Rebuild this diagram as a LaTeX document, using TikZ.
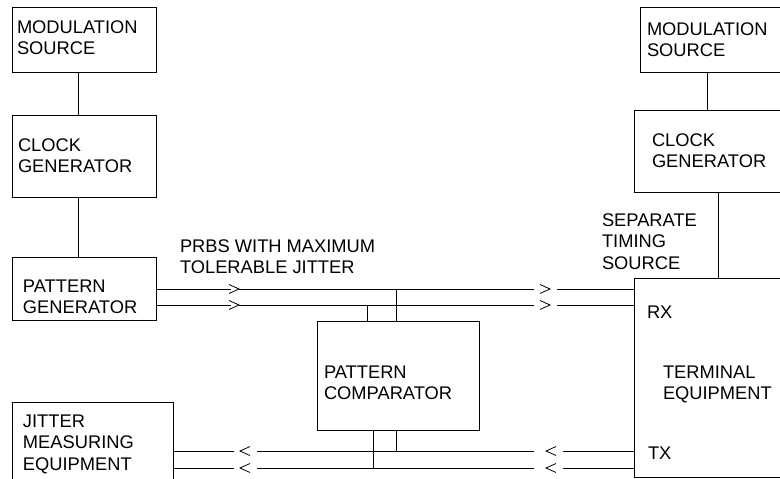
\documentclass[tikz,border=0pt]{standalone}
\usepackage{fontspec}
\setmainfont{Liberation Sans}
\begin{document}
\begin{tikzpicture}[x=1pt,y=-1pt,
  box/.style={draw, line width=1pt, inner sep=0pt, outer sep=0pt, anchor=north west},
  lbl/.style={anchor=north west, inner sep=0pt, outer sep=0pt, align=left,
    font=\fontsize{18.3}{21.5}\selectfont},
  wire/.style={line width=1pt},
  chev/.style={line width=0.8pt}]
\useasboundingbox (0,0) rectangle (780,479);
\clip (0,0) rectangle (780,479);
\fill[white] (0,0) rectangle (780,479);
\newcommand{\fl}{\rule{0pt}{14pt}}
% boxes
\node[box, minimum width=144pt, minimum height=65pt] (lms) at (12,7) {};
\node[box, minimum width=144pt, minimum height=82pt] (lcg) at (12,115) {};
\node[box, minimum width=144pt, minimum height=63pt] (pg) at (12,257) {};
\node[box, minimum width=161pt, minimum height=90pt] (jm) at (12,402) {};
\node[box, minimum width=162pt, minimum height=109pt] (pc) at (317,321) {};
\node[box, minimum width=150pt, minimum height=65pt] (rms) at (640,7) {};
\node[box, minimum width=156pt, minimum height=82pt] (rcg) at (634,110) {};
\node[box, minimum width=156pt, minimum height=199pt] (te) at (634,278) {};
% texts
\node[lbl] (lmsT) at (17,19) {\fl MODULATION\\SOURCE};
\node[lbl] (lcgT) at (18,137) {\fl CLOCK\\GENERATOR};
\node[lbl] (pgT) at (23,278) {\fl PATTERN\\GENERATOR};
\node[lbl] (prbsT) at (180,238) {\fl PRBS WITH MAXIMUM\\TOLERABLE JITTER};
\node[lbl] (pcT) at (324,364) {\fl PATTERN\\COMPARATOR};
\node[lbl] (jmT) at (23,413) {\fl JITTER\\MEASURING\\EQUIPMENT};
\node[lbl] (rmsT) at (647,21) {\fl MODULATION\\SOURCE};
\node[lbl] (rcgT) at (652,132) {\fl CLOCK\\GENERATOR};
\node[lbl] (stsT) at (602,212) {\fl SEPARATE\\TIMING\\SOURCE};
\node[lbl] (rxT) at (647,304) {\fl RX};
\node[lbl] (teT) at (663,364) {\fl TERMINAL\\EQUIPMENT};
\node[lbl] (txT) at (648,445) {\fl TX};
% vertical connectors
\draw[wire] ([xshift=66pt]lms.south west) -- ([xshift=66pt]lcg.north west);
\draw[wire] ([xshift=66pt]lcg.south west) -- ([xshift=66pt]pg.north west);
\draw[wire] ([xshift=67pt]rms.south west) -- ([xshift=73pt]rcg.north west);
\draw[wire] ([xshift=84pt]rcg.south west) -- ([xshift=84pt]te.north west);
% chevron coordinates
\coordinate (a1) at (229,289); \coordinate (a2) at (540,289);
\coordinate (b1) at (229,305); \coordinate (b2) at (540,305);
\coordinate (c1) at (240,451); \coordinate (c2) at (546,451);
\coordinate (d1) at (240,468); \coordinate (d2) at (546,468);
% top signal lines
\foreach \p/\q in {a1/a2, b1/b2}{
  \draw[wire] (pg.east |- \p) -- ([xshift=2pt]\p);
  \draw[chev] ([yshift=4.5pt]\p) -- ([xshift=10pt]\p) -- ([yshift=-4.5pt]\p);
  \draw[wire] ([xshift=10pt]\p) -- ([xshift=-6pt]\q);
  \draw[chev] ([yshift=4.5pt]\q) -- ([xshift=10pt]\q) -- ([yshift=-4.5pt]\q);
  \draw[wire] ([xshift=17pt]\q) -- (te.west |- \q);
}
% bottom signal lines
\foreach \p/\q in {c1/c2, d1/d2}{
  \draw[wire] (jm.east |- \p) -- ([xshift=-6pt]\p);
  \draw[chev] ([xshift=10pt,yshift=4.5pt]\p) -- (\p) -- ([xshift=10pt,yshift=-4.5pt]\p);
  \draw[wire] ([xshift=17pt]\p) -- ([xshift=-12pt]\q);
  \draw[chev] ([xshift=10pt,yshift=4.5pt]\q) -- (\q) -- ([xshift=10pt,yshift=-4.5pt]\q);
  \draw[wire] ([xshift=17pt]\q) -- (te.west |- \q);
}
% comparator taps
\coordinate (t1) at (367,305); \coordinate (t2) at (396,289);
\coordinate (u1) at (373,468); \coordinate (u2) at (396,451);
\draw[wire] (t1) -- (t1 |- pc.north);
\draw[wire] (t2) -- (t2 |- pc.north);
\draw[wire] (u1 |- pc.south) -- (u1);
\draw[wire] (u2 |- pc.south) -- (u2);
\end{tikzpicture}
\end{document}
